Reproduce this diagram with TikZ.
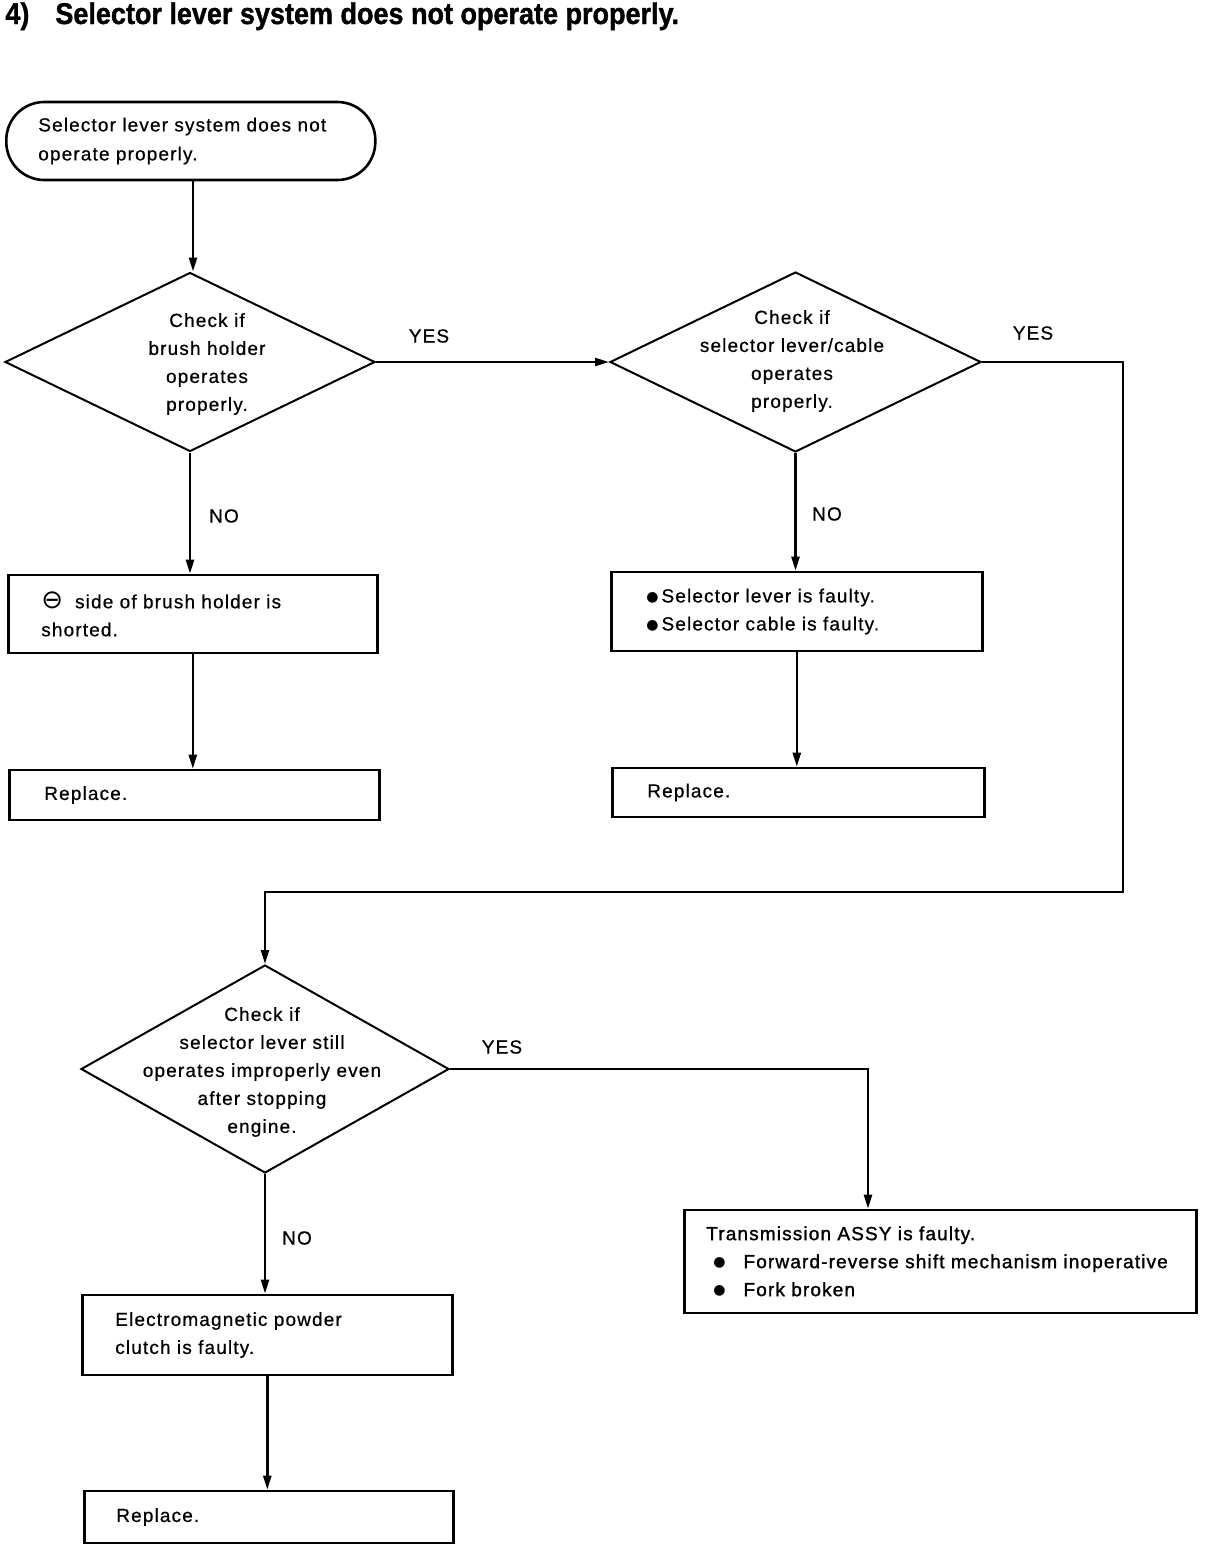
\documentclass[tikz,border=0pt]{standalone}
\usepackage{fontspec}
\setmainfont{Liberation Sans}[LetterSpace=6, FakeBold=0.6]
\newfontfamily\titlefont{Liberation Sans}[FakeStretch=0.9, FakeBold=1.2]
\newfontfamily\symfont{DejaVu Sans}
\newfontfamily\heavyfont{Liberation Sans}[LetterSpace=6, FakeBold=1.4]
\usetikzlibrary{shapes.geometric,arrows.meta}
\newcommand\bul{\raisebox{0.6pt}{\symfont\fontsize{7}{10}\selectfont ●}}
\begin{document}
\begin{tikzpicture}[x=0.5pt,y=-0.5pt,
  txt/.style={font=\fontsize{9.5}{14}\selectfont, inner sep=0pt},
  bx/.style={draw, line width=1.3pt, anchor=west, align=left, inner ysep=0pt, font=\fontsize{9.5}{14}\selectfont},
  dia/.style={draw, diamond, line width=1pt, inner sep=0pt},
  arr/.style={line width=1.2pt, -{Triangle[length=7pt,width=4pt]}}]
\useasboundingbox (0,0) rectangle (1216,1548);
\node[anchor=base west, inner sep=0pt, font=\titlefont\bfseries\fontsize{15}{17}\selectfont] (title) at (5,24) {4)\hspace{13pt}Selector lever system does not operate properly.};
% terminator and boxes
\node[bx, rounded corners=19pt, minimum height=39pt, text width=152.5pt, inner xsep=16pt, font=\fontsize{9.5}{14.5}\selectfont] (start) at (5,141) {Selector lever system does not\\operate properly.};
\node[bx, minimum height=39pt, text width=151.5pt, inner xsep=16.5pt] (b1) at (7,614) {{\symfont\fontsize{13}{14}\selectfont ⊖}\hspace{6pt}side of brush holder is\\shorted.};
\node[bx, minimum height=25pt, text width=150pt, inner xsep=17.5pt] (r1) at (8,795) {Replace.};
\node[bx, minimum height=39.5pt, text width=150.5pt, inner xsep=17.5pt] (b2) at (610,611.5) {\bul\hspace{1.5pt}Selector lever is faulty.\\\bul\hspace{1.5pt}Selector cable is faulty.};
\node[bx, minimum height=24.5pt, text width=151pt, inner xsep=17.5pt] (r2) at (611,792.5) {Replace.};
\node[bx, minimum height=51.5pt, text width=234pt, inner xsep=11pt, font=\heavyfont\fontsize{9.5}{14}\selectfont] (t) at (683,1261.5) {Transmission ASSY is faulty.\\\hspace*{3.5pt}\bul\hspace{9pt}Forward-reverse shift mechanism inoperative\\\hspace*{3.5pt}\bul\hspace{9pt}Fork broken};
\node[bx, minimum height=40pt, text width=152pt, inner xsep=16.5pt] (e) at (81,1335) {Electromagnetic powder\\clutch is faulty.};
\node[bx, minimum height=26pt, text width=152.5pt, inner xsep=16pt] (r3) at (83,1517) {Replace.};
% diamonds
\node[dia, minimum width=185pt, minimum height=89.5pt] (d1) at (190,362) {};
\node[txt, align=center] (d1t) at (207,364) {Check if\\brush holder\\operates\\properly.};
\node[dia, minimum width=185.5pt, minimum height=90pt] (d2) at (795.5,362) {};
\node[txt, align=center] (d2t) at (792,361) {Check if\\selector lever/cable\\operates\\properly.};
\node[dia, minimum width=184pt, minimum height=104pt] (d3) at (265,1069) {};
\node[txt, align=center] (d3t) at (262,1072) {Check if\\selector lever still\\operates improperly even\\after stopping\\engine.};
% labels
\node[txt] (y1) at (429,336) {YES};
\node[txt] (n1) at (224,516) {NO};
\node[txt] (y2) at (1033,333) {YES};
\node[txt] (n2) at (827,514) {NO};
\node[txt] (y3) at (502,1047) {YES};
\node[txt] (n3) at (297,1238) {NO};
% connectors
\coordinate (c1) at (1123,892);
\coordinate (c2) at (868,1069);
\draw[arr] (start.south -| 193,0) -- (d1.north -| 193,0);
\draw[arr] (d1.east) -- (d2.west);
\draw[arr] (d1.south) -- (d1.south |- b1.north);
\draw[arr] (b1.south) -- (b1.south |- r1.north);
\draw[arr] (d2.south) -- (d2.south |- b2.north);
\draw[arr] (b2.south) -- (b2.south |- r2.north);
\draw[arr] (d2.east) -| (c1) -| (d3.north);
\draw[arr] (d3.east) -| (t.north -| c2);
\draw[arr] (d3.south) -- (d3.south |- e.north);
\draw[arr] (e.south) -- (e.south |- r3.north);
\end{tikzpicture}
\end{document}
